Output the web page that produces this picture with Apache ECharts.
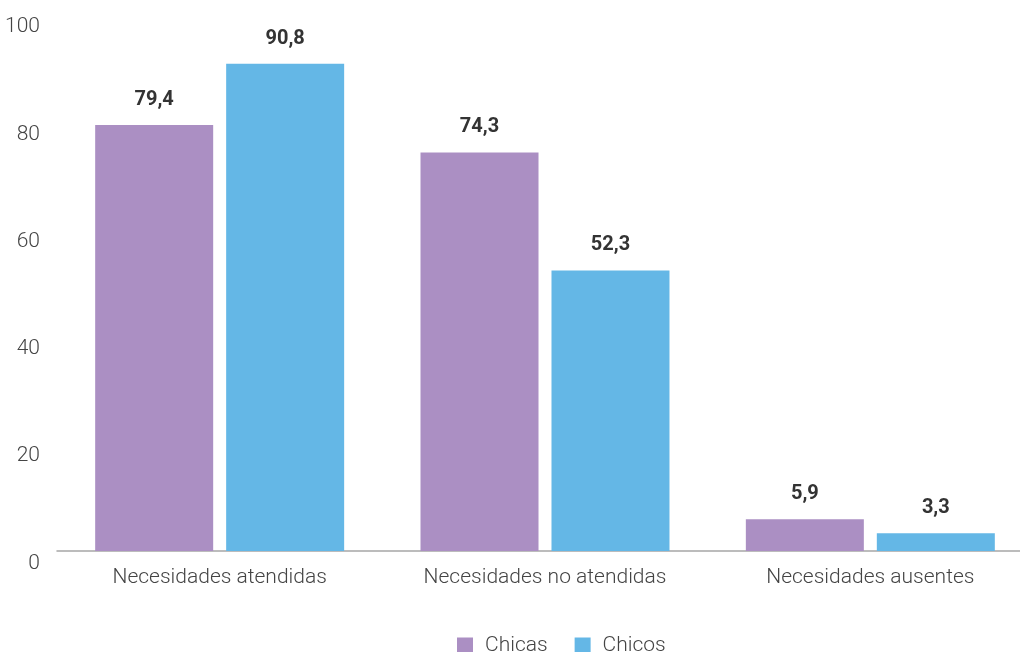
<!DOCTYPE html>
<html>
<head>
<meta charset="utf-8">
<style>
  html, body { margin: 0; padding: 0; background: #ffffff; overflow: hidden; }
  /* the canvas is a little wider than the page so the last category keeps its full width */
  #chart { width: 1040px; height: 652px; }
</style>
<script src="https://cdn.jsdelivr.net/npm/echarts@6/dist/echarts.min.js"></script>
</head>
<body>
<div id="chart"></div>
<script>
// Categories and series values (percentages)
const categories = ['Necesidades atendidas', 'Necesidades no atendidas', 'Necesidades ausentes'];
const chicas = [79.4, 74.3, 5.9];
const chicos = [90.8, 52.3, 3.3];
const yTicks = [0, 20, 40, 60, 80, 100];

const FONT = 'Roboto, "Noto Sans", sans-serif';
const fmt = v => String(v).replace('.', ',');

const valueLabel = {
  show: true,
  position: 'top',
  distance: 15,
  fontFamily: FONT,
  fontSize: 20,
  fontWeight: 'bold',
  color: '#333333',
  formatter: p => fmt(p.value)
};

const chart = echarts.init(document.getElementById('chart'), null, { renderer: 'canvas' });
chart.setOption({
  animation: false,
  backgroundColor: '#ffffff',
  grid: { left: 57, width: 976, top: 14.5, bottom: 101, containLabel: false },
  legend: {
    top: 630,
    left: 452,
    itemWidth: 16,
    itemHeight: 16,
    itemGap: 27,
    icon: 'rect',
    textStyle: { fontFamily: FONT, fontSize: 21, fontWeight: 300, color: '#444444', padding: [0, 0, 0, 7] },
    data: ['Chicas', 'Chicos']
  },
  xAxis: {
    type: 'category',
    data: categories,
    axisLine: { lineStyle: { color: '#a6a6a6', width: 1.5 } },
    axisTick: { show: false },
    axisLabel: { margin: 16, fontFamily: FONT, fontSize: 21, fontWeight: 300, color: '#444444' }
  },
  yAxis: {
    type: 'value',
    min: yTicks[0],
    max: yTicks[yTicks.length - 1],
    interval: 20,
    splitLine: { show: false },
    axisLine: { show: false },
    axisTick: { show: false },
    axisLabel: {
      margin: 17,
      fontFamily: FONT,
      fontSize: 21,
      fontWeight: 300,
      color: '#444444',
      verticalAlign: 'top',
      padding: [2, 0, 0, 0],
      formatter: v => yTicks.includes(v) ? String(v) : ''
    }
  },
  series: [
    {
      name: 'Chicas',
      type: 'bar',
      data: chicas,
      barWidth: 118,
      barGap: '11%',
      itemStyle: { color: '#ab8fc3' },
      label: valueLabel
    },
    {
      name: 'Chicos',
      type: 'bar',
      data: chicos,
      barWidth: 118,
      barGap: '11%',
      itemStyle: { color: '#64b7e6' },
      label: valueLabel
    }
  ]
});
</script>
</body>
</html>
